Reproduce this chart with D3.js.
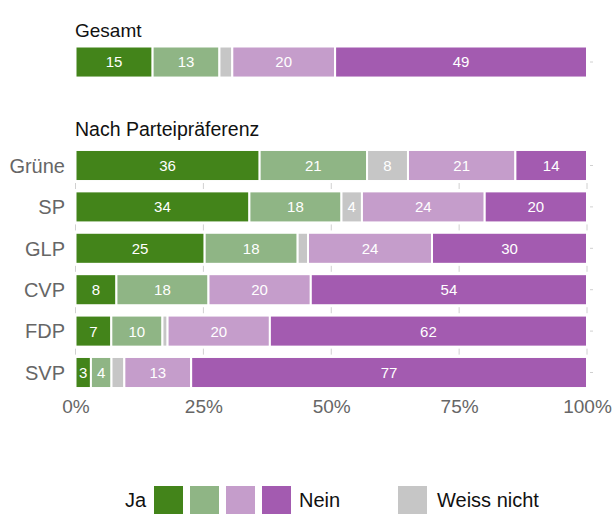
<!DOCTYPE html>
<html><head><meta charset="utf-8">
<script src="https://cdn.jsdelivr.net/npm/d3@7"></script>
<style>body{margin:0;background:#fff}svg{display:block;font-family:"Liberation Sans",Arial,Helvetica,sans-serif}</style>
</head><body><svg id="c" width="614" height="514"></svg>
<script>
const keys = ["ja", "eherJa", "weissNicht", "eherNein", "nein"];
const colors = ["#43841a", "#8fb585", "#c6c6c6", "#c59dcb", "#a35bb0"];
const groups = ["Gesamt"];
const parties = ["Grüne", "SP", "GLP", "CVP", "FDP", "SVP"];
const ja =         [15, 36, 34, 25, 8, 7, 3];
const eherJa =     [13, 21, 18, 18, 18, 10, 4];
const weissNicht = [2.5, 8, 4, 2, 0, 1, 2.5];
const eherNein =   [20, 21, 24, 24, 20, 20, 13];
const nein =       [49, 14, 20, 30, 54, 62, 77];
const xTicks = [0, 0.25, 0.5, 0.75, 1];
const legendLeft = ["Ja", "Nein"];
const legendRight = "Weiss nicht";
const titles = ["Gesamt", "Nach Parteipräferenz"];

const names = groups.concat(parties);
const rows = names.map((n, i) => ({name: n, ja: ja[i], eherJa: eherJa[i], weissNicht: weissNicht[i], eherNein: eherNein[i], nein: nein[i]}));
const stacked = d3.stack().keys(keys).offset(d3.stackOffsetExpand)(rows);

const svg = d3.select("#c");
const x = d3.scaleLinear().domain([0, 1]).range([75.5, 587]);
const color = d3.scaleOrdinal().domain(keys).range(colors);
const y = d3.scaleBand().domain(parties).range([144.8, 393.2]).paddingInner(0.25).paddingOuter(0.125);
const yG = d3.scaleBand().domain(groups).range([46.5, 77.5]);
const yPos = n => groups.includes(n) ? yG(n) : y(n);
const bh = y.bandwidth();

// titles
svg.append("text").attr("x", 75).attr("y", 37).attr("font-size", 19).attr("fill", "#111").text(titles[0]);
svg.append("text").attr("x", 75).attr("y", 136).attr("font-size", 19.5).attr("fill", "#111").text(titles[1]);

// small tick marks below each party row except last
const tickRows = parties.slice(0, -1);
tickRows.forEach(p => {
  svg.append("g").selectAll("line").data(xTicks).join("line")
    .attr("x1", d => x(d)).attr("x2", d => x(d))
    .attr("y1", y(p) + bh + 2).attr("y2", y(p) + bh + 8)
    .attr("stroke", "#d0d0d0").attr("stroke-width", 1);
});
// right side ticks
svg.append("g").selectAll("line").data(names).join("line")
  .attr("x1", 590).attr("x2", 593)
  .attr("y1", d => yPos(d) + bh / 2).attr("y2", d => yPos(d) + bh / 2)
  .attr("stroke", "#d0d0d0");

// bars
const layer = svg.append("g").selectAll("g").data(stacked).join("g").attr("fill", d => color(d.key));
layer.selectAll("rect").data(d => d.filter(s => s[1] - s[0] > 0)).join("rect")
  .attr("x", d => x(d[0]))
  .attr("width", d => Math.max(0, x(d[1]) - x(d[0])))
  .attr("y", d => yPos(d.data.name))
  .attr("height", bh)
  .attr("stroke", "#fff").attr("stroke-width", 2);

// value labels
const lab = svg.append("g").attr("fill", "#fff").attr("font-size", 15).attr("text-anchor", "middle");
stacked.forEach(s => {
  s.forEach(d => {
    const v = d.data[s.key];
    if (v >= 3) {
      lab.append("text").attr("x", (x(d[0]) + x(d[1])) / 2)
        .attr("y", yPos(d.data.name) + bh / 2).attr("dy", "0.36em").text(Math.round(v));
    }
  });
});

// row labels
svg.append("g").selectAll("text").data(parties).join("text")
  .attr("x", 65).attr("y", d => y(d) + bh / 2).attr("dy", "0.36em")
  .attr("text-anchor", "end").attr("font-size", 20).attr("fill", "#666").text(d => d);

// x axis labels
const xa = svg.append("g").attr("transform", "translate(0,399)")
  .call(d3.axisBottom(x).tickValues(xTicks).tickFormat(d3.format(".0%")).tickSize(0).tickPadding(0));
xa.select(".domain").remove();
xa.selectAll("text").attr("font-size", 19).attr("fill", "#666").attr("font-family", null).attr("dy", "0.71em").attr("y", 0);

// legend
const lg = svg.append("g");
const sw = 29, sh = 28, sy = 486;
const legKeys = ["ja", "eherJa", "eherNein", "nein"];
lg.selectAll("rect.l").data(legKeys).join("rect").attr("class", "l")
  .attr("x", (d, i) => 154 + i * 36).attr("y", sy).attr("width", sw).attr("height", sh)
  .attr("fill", d => color(d));
lg.append("rect").attr("x", 398).attr("y", sy).attr("width", sw).attr("height", sh).attr("fill", color("weissNicht"));
lg.append("text").attr("x", 146).attr("y", sy + sh / 2).attr("dy", "0.36em").attr("text-anchor", "end").attr("font-size", 20).attr("fill", "#111").text(legendLeft[0]);
lg.append("text").attr("x", 299).attr("y", sy + sh / 2).attr("dy", "0.36em").attr("font-size", 20).attr("fill", "#111").text(legendLeft[1]);
lg.append("text").attr("x", 437).attr("y", sy + sh / 2).attr("dy", "0.36em").attr("font-size", 20).attr("fill", "#111").text(legendRight);
</script></body></html>
